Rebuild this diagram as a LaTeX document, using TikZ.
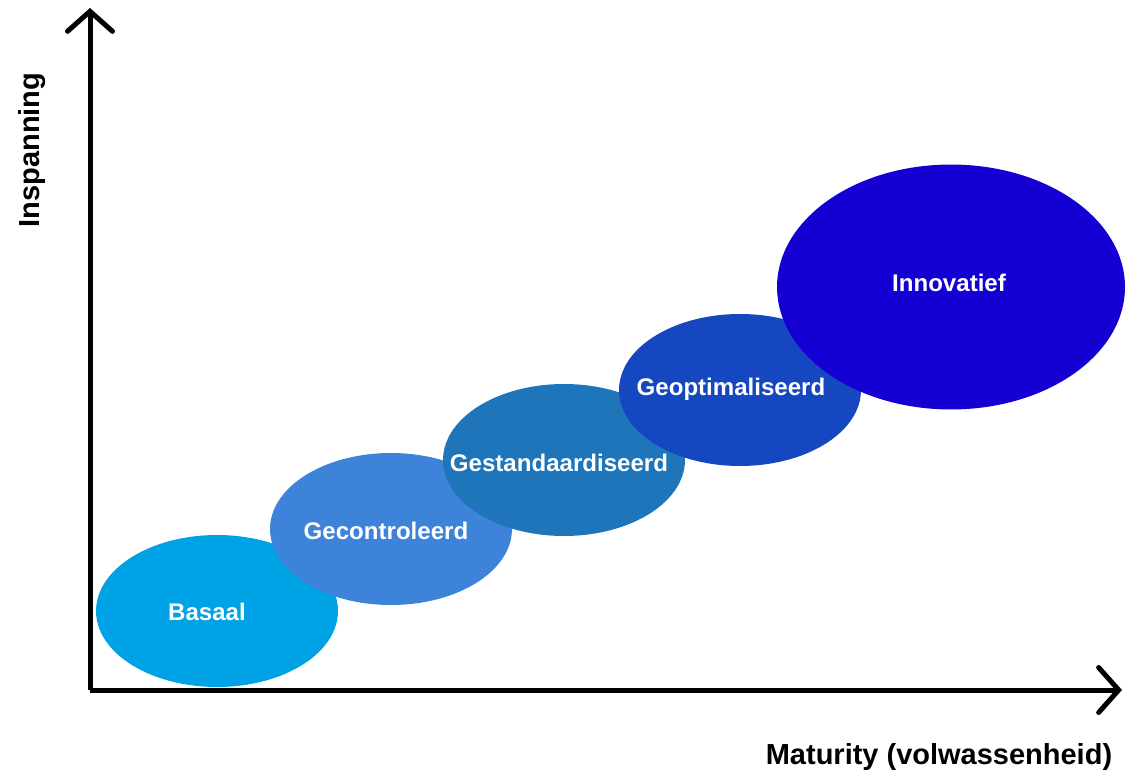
\documentclass[tikz,border=0pt]{standalone}
\usepackage{fontspec}
\setmainfont{Liberation Sans}
\usetikzlibrary{arrows.meta}
\usetikzlibrary{shapes.geometric}
\definecolor{basaalblue}{RGB}{0,162,230}
\definecolor{gecontblue}{RGB}{61,131,217}
\definecolor{gestandblue}{RGB}{30,117,186}
\definecolor{geoptblue}{RGB}{20,71,192}
\definecolor{innovblue}{RGB}{20,0,210}
\tikzset{
  stage/.style= {
    ellipse,
    draw = none,
    fill = #1,
    inner sep = 0pt,
    minimum width = 4.84cm,
    minimum height = 3.04cm
  },
  stagetext/.style= {
    text = white,
    inner sep = 0pt,
    font = \fontsize{13.7}{16}\selectfont\bfseries
  },
  axis/.style= {
    line width = 0.1cm,
    -{Straight Barb[length=4mm,width=9mm,line cap=round]}
  },
  axislabel/.style= {
    font = \fontsize{16.5}{19}\selectfont\bfseries
  }
}
\begin{document}
\begin{tikzpicture}[x=0.02cm,y=0.02cm]
  \useasboundingbox (0,0) rectangle (1125,775);

  \coordinate (origin) at (90,85);
  \coordinate (ytop) at (90,767);
  \coordinate (xend) at (1122,85);
  \draw[axis] (origin) -- (ytop);
  \draw[axis] (origin) -- (xend);

  \node[stage=basaalblue] (basaal) at (217,164) {};
  \node[stagetext] (basaaltext) at (207,163) {Basaal};
  \node[stage=gecontblue] (gecont) at (391,246) {};
  \node[stagetext] (gecontext) at (386,244) {Gecontroleerd};
  \node[stage=gestandblue] (gestand) at (564,315) {};
  \node[stagetext] (gestandtext) at (559,312) {Gestandaardiseerd};
  \node[stage=geoptblue] (geopt) at (740,385) {};
  \node[stagetext] (geopttext) at (731,386) {Geoptimaliseerd};
  \node[stage=innovblue,minimum width=6.96cm,minimum height=4.9cm] (innov) at (951,488) {};
  \node[stagetext] (innovtext) at (949,492) {Innovatief};

  \node[axislabel,rotate=90] (ylabel) at (32,625) {Inspanning};
  \node[axislabel] (xlabel) at (939,18) {Maturity (volwassenheid)};
\end{tikzpicture}
\end{document}
